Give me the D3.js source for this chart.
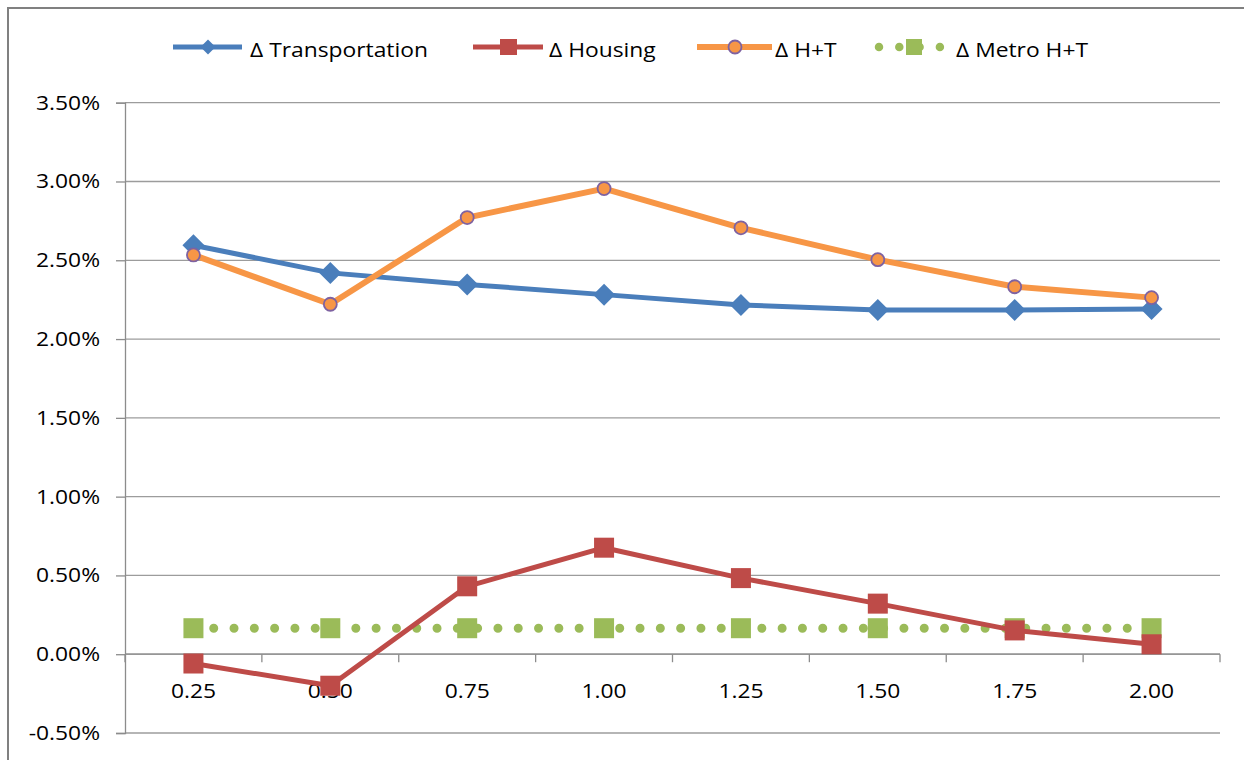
<!DOCTYPE html>
<html>
<head>
<meta charset="utf-8">
<script src="https://cdn.jsdelivr.net/npm/d3@7"></script>
<style>
  html, body { margin: 0; padding: 0; background: #fff; }
  svg { display: block; }
</style>
</head>
<body>
<svg id="chart" width="1244" height="760"></svg>
<script>
// ---- data ----
const categories = ["0.25", "0.50", "0.75", "1.00", "1.25", "1.50", "1.75", "2.00"];
const transportation = [0.02595, 0.02420, 0.02347, 0.02282, 0.02216, 0.02185, 0.02185, 0.02191];
const housing        = [-0.00059, -0.00200, 0.00431, 0.00676, 0.00483, 0.00321, 0.00151, 0.00063];
const hplust         = [0.02534, 0.02221, 0.02771, 0.02955, 0.02706, 0.02504, 0.02332, 0.02263];
const metroHT        = [0.00165, 0.00165, 0.00165, 0.00165, 0.00165, 0.00165, 0.00165, 0.00165];
const yTicks = [-0.005, 0, 0.005, 0.01, 0.015, 0.02, 0.025, 0.03, 0.035];
const seriesNames = ["\u0394 Transportation", "\u0394 Housing", "\u0394 H+T", "\u0394 Metro H+T"];

// ---- layout ----
const svg = d3.select("#chart");
const plotLeft = 125, plotRight = 1220, plotTop = 102.7, plotBottom = 733;
const FONT = "'Open Sans', 'Liberation Sans', sans-serif";
const FS = 19.5, SX = 1.17;

const x = d3.scaleBand().domain(categories).range([plotLeft, plotRight]).padding(0);
const xc = d => x(d) + x.bandwidth() / 2;
const y = d3.scaleLinear().domain([-0.005, 0.035]).range([plotBottom, plotTop]);
const pct = v => d3.format(".2%")(v).replace("\u2212", "-");

const colors = {
  blue: "#4A7EBB", red: "#BE4B48", orange: "#F79646", purple: "#7E62A1", green: "#9BBB59",
  grid: "#9c9c9c", axis: "#8c8c8c", border: "#808080"
};

function stretchedText(g, tx, ty, str, anchor, size) {
  return g.append("g").attr("transform", `translate(${tx},${ty}) scale(${SX},1)`)
    .append("text")
    .attr("text-anchor", anchor)
    .attr("font-family", FONT)
    .attr("font-size", size || FS)
    .attr("fill", "#000")
    .text(str);
}

// chart border
svg.append("rect").attr("x", 8).attr("y", 8).attr("width", 1300).attr("height", 800)
  .attr("fill", "#fff").attr("stroke", colors.border).attr("stroke-width", 2);

// gridlines
svg.append("g").selectAll("line").data(yTicks).join("line")
  .attr("x1", plotLeft).attr("x2", plotRight)
  .attr("y1", d => y(d)).attr("y2", d => y(d))
  .attr("stroke", colors.grid).attr("stroke-width", 1.3);

// y axis
const yAxis = svg.append("g").attr("transform", `translate(${plotLeft},0)`)
  .call(d3.axisLeft(y).tickValues(yTicks).tickSize(9).tickFormat(""));
yAxis.select(".domain").attr("stroke", colors.axis).attr("stroke-width", 1.3);
yAxis.selectAll(".tick line").attr("stroke", colors.axis).attr("stroke-width", 1.3);
const yLab = svg.append("g");
yTicks.forEach(t => stretchedText(yLab, 100, y(t) + 7, pct(t), "end"));

// x axis at zero
const xAxisG = svg.append("g");
xAxisG.append("line").attr("x1", plotLeft).attr("x2", plotRight).attr("y1", y(0)).attr("y2", y(0))
  .attr("stroke", colors.axis).attr("stroke-width", 1.3);
const boundaries = categories.map(c => x(c)).concat([plotRight]);
xAxisG.selectAll("line.tk").data(boundaries).join("line").attr("class", "tk")
  .attr("x1", d => d).attr("x2", d => d).attr("y1", y(0)).attr("y2", y(0) + 8)
  .attr("stroke", colors.axis).attr("stroke-width", 1.3);
const xLab = svg.append("g");
categories.forEach(c => stretchedText(xLab, xc(c), 698, c, "middle"));

// series
const line = d3.line().x((d, i) => xc(categories[i])).y(d => y(d));

// Metro H+T (dotted)
svg.append("path").attr("d", line(metroHT)).attr("fill", "none")
  .attr("stroke", colors.green).attr("stroke-width", 9)
  .attr("stroke-linecap", "round").attr("stroke-dasharray", "0 20.3");
svg.append("g").selectAll("rect").data(metroHT).join("rect")
  .attr("x", (d, i) => xc(categories[i]) - 10).attr("y", d => y(d) - 10)
  .attr("width", 20).attr("height", 20).attr("fill", colors.green);

// Housing
svg.append("path").attr("d", line(housing)).attr("fill", "none")
  .attr("stroke", colors.red).attr("stroke-width", 5).attr("stroke-linejoin", "round");
svg.append("g").selectAll("rect").data(housing).join("rect")
  .attr("x", (d, i) => xc(categories[i]) - 10).attr("y", d => y(d) - 10)
  .attr("width", 20).attr("height", 20).attr("fill", colors.red);

// Transportation
svg.append("path").attr("d", line(transportation)).attr("fill", "none")
  .attr("stroke", colors.blue).attr("stroke-width", 5).attr("stroke-linejoin", "round");
const diamond = s => `M0,${-s}L${s},0L0,${s}L${-s},0Z`;
svg.append("g").selectAll("path").data(transportation).join("path")
  .attr("transform", (d, i) => `translate(${xc(categories[i])},${y(d)})`)
  .attr("d", diamond(11)).attr("fill", colors.blue);

// H+T
svg.append("path").attr("d", line(hplust)).attr("fill", "none")
  .attr("stroke", colors.orange).attr("stroke-width", 6).attr("stroke-linejoin", "round");
svg.append("g").selectAll("circle").data(hplust).join("circle")
  .attr("cx", (d, i) => xc(categories[i])).attr("cy", d => y(d)).attr("r", 6.5)
  .attr("fill", colors.orange).attr("stroke", colors.purple).attr("stroke-width", 1.8);

// legend
const lg = svg.append("g");
const ly = 47;
// Transportation
lg.append("line").attr("x1", 173).attr("x2", 242).attr("y1", ly).attr("y2", ly)
  .attr("stroke", colors.blue).attr("stroke-width", 5);
lg.append("path").attr("transform", `translate(208,${ly})`).attr("d", diamond(7.5)).attr("fill", colors.blue);
stretchedText(lg, 250, 57, seriesNames[0], "start");
// Housing
lg.append("line").attr("x1", 473).attr("x2", 543).attr("y1", ly).attr("y2", ly)
  .attr("stroke", colors.red).attr("stroke-width", 5);
lg.append("rect").attr("x", 500).attr("y", ly - 8).attr("width", 17).attr("height", 16).attr("fill", colors.red);
stretchedText(lg, 549, 57, seriesNames[1], "start");
// H+T
lg.append("line").attr("x1", 697).attr("x2", 772).attr("y1", ly).attr("y2", ly)
  .attr("stroke", colors.orange).attr("stroke-width", 6);
lg.append("circle").attr("cx", 735).attr("cy", ly).attr("r", 6.5)
  .attr("fill", colors.orange).attr("stroke", colors.purple).attr("stroke-width", 1.8);
stretchedText(lg, 775, 57, seriesNames[2], "start");
// Metro H+T
lg.append("line").attr("x1", 879).attr("x2", 941).attr("y1", ly).attr("y2", ly)
  .attr("stroke", colors.green).attr("stroke-width", 8.5)
  .attr("stroke-linecap", "round").attr("stroke-dasharray", "0 20.3");
lg.append("rect").attr("x", 906).attr("y", ly - 8).attr("width", 16).attr("height", 16).attr("fill", colors.green);
stretchedText(lg, 956, 57, seriesNames[3], "start");
</script>
</body>
</html>
